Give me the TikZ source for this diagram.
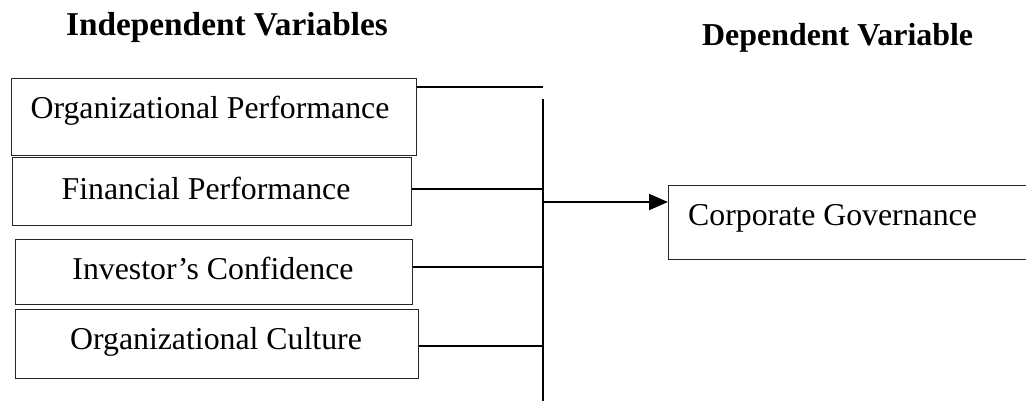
\documentclass[tikz,border=0pt]{standalone}
\usepackage{fontspec}
\setmainfont{Liberation Serif}
\usetikzlibrary{arrows.meta}
\begin{document}
\begin{tikzpicture}[x=1pt,y=-1pt,
  varbox/.style={draw=black!85, line width=1.3pt, rectangle, inner sep=0pt, anchor=north west},
  lbl/.style={inner sep=0pt, font=\fontsize{31.8}{38}\selectfont},
  head/.style={inner sep=0pt, font=\fontsize{33.3}{40}\selectfont\bfseries},
  conn/.style={line width=2pt, black},
  arr/.style={conn, -{Triangle[length=19pt,width=16pt]}}]
\useasboundingbox (0,0) rectangle (1026,400);
% headings
\node[head, anchor=base] (hi) at (227,35) {Independent Variables};
\node[head, anchor=base west, font=\fontsize{31.9}{38}\selectfont\bfseries] (hd) at (702,45.6) {Dependent Variable};
% independent boxes
\node[varbox, minimum width=405pt, minimum height=77pt] (op) at (11,78) {};
\node[varbox, minimum width=399pt, minimum height=68pt] (fp) at (12,157) {};
\node[varbox, minimum width=397pt, minimum height=65pt] (ic) at (15,239) {};
\node[varbox, minimum width=403pt, minimum height=69pt] (oc) at (15,309) {};
\node[lbl, anchor=base] (opt) at (210,118) {Organizational Performance};
\node[lbl, anchor=base] (fpt) at (206,199) {Financial Performance};
\node[lbl, anchor=base] (ict) at (213,279) {Investor’s Confidence};
\node[lbl, anchor=base] (oct) at (216,349) {Organizational Culture};
% dependent box
\node[varbox, minimum width=365pt, minimum height=74pt] (cg) at (668,185) {};
\node[lbl, anchor=base west] (cgt) at (688,225) {Corporate Governance};
% connector coordinates
\coordinate (t1) at (543,87);
\coordinate (y2) at (543,189);
\coordinate (y3) at (543,267);
\coordinate (y4) at (543,346);
\coordinate (ya) at (543,202);
\coordinate (vtop) at (543,99);
\coordinate (vbot) at (543,401);
% connectors
\draw[conn] (op.east |- t1) -- (t1);
\draw[conn] (vtop) -- (vbot);
\draw[conn] (fp.east |- y2) -- (y2);
\draw[conn] (ic.east |- y3) -- (y3);
\draw[conn] (oc.east |- y4) -- (y4);
\draw[arr] (ya) -- (cg.west |- ya);
\end{tikzpicture}
\end{document}
